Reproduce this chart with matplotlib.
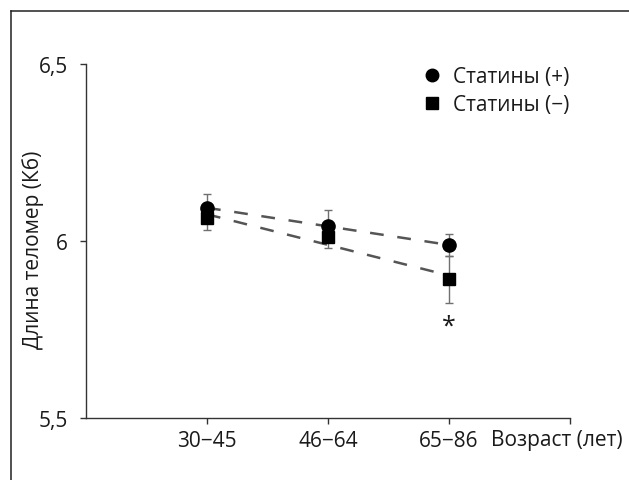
import matplotlib
matplotlib.use("Agg")
import matplotlib.pyplot as plt
from matplotlib.lines import Line2D
import numpy as np

plt.rcParams['font.family'] = ['Open Sans', 'DejaVu Sans']

# Data
categories = ["30−45", "46−64", "65−86"]
statins_plus = [6.093, 6.043, 5.988]
statins_plus_err = [0.040, 0.045, 0.031]
statins_minus = [6.065, 6.010, 5.892]
statins_minus_err = [0.035, 0.030, 0.066]
yticks = [5.5, 6.0, 6.5]
ytick_labels = ["5,5", "6", "6,5"]
label_plus = "Статины (+)"
label_minus = "Статины (−)"
ylabel = "Длина теломер (Кб)"
xlabel = "Возраст (лет)"
signif_marker = "*"
signif_y = 5.76

FS = 15
W, H = 629, 481
fig = plt.figure(figsize=(W / 100, H / 100), dpi=100)
ax = fig.add_axes([86 / W, 1 - 419 / H, (570 - 86) / W, (419 - 65) / H])

x = np.arange(1, len(categories) + 1)
text_color = "#1a1a1a"
err_color = "#707070"
line_color = "#555555"

# trend lines (linear fits)
for vals in (statins_plus, statins_minus):
    k, b = np.polyfit(x, vals, 1)
    ax.plot(x, k * x + b, color=line_color, lw=1.8, dashes=[5.5, 5.5], zorder=2)

ax.errorbar(x, statins_plus, yerr=statins_plus_err, fmt='none', ecolor=err_color,
            elinewidth=1.0, capsize=2.8, capthick=1.0, zorder=3)
ax.errorbar(x, statins_minus, yerr=statins_minus_err, fmt='none', ecolor=err_color,
            elinewidth=1.0, capsize=2.8, capthick=1.0, zorder=3)
ax.plot(x, statins_minus, 's', color='black', markersize=9, zorder=4)
ax.plot(x, statins_plus, 'o', color='black', markersize=9.5, zorder=5)

ax.text(x[-1], signif_y, signif_marker, ha='center', va='center', fontsize=18, color=text_color)

ax.set_xlim(0, 4)
ax.set_ylim(5.5, 6.5)
ax.set_xticks(list(x) + [4])
ax.set_xticklabels(categories + [""])
ax.set_yticks(yticks)
ax.set_yticklabels(ytick_labels)
for s in ('top', 'right'):
    ax.spines[s].set_visible(False)
for s in ('left', 'bottom'):
    ax.spines[s].set_color('#333333')
    ax.spines[s].set_linewidth(1.0)
ax.tick_params(axis='both', direction='out', length=4, width=1.0, color='#333333',
               labelsize=FS, labelcolor=text_color)
ax.tick_params(axis='y', pad=9.0)
ax.tick_params(axis='x', pad=5)

ax.annotate(xlabel, xy=(3.35, 0), xycoords=('data', 'axes fraction'),
            xytext=(0, -8.0), textcoords='offset points', ha='left', va='top',
            fontsize=FS, color=text_color)
fig.text(33 / W, 1 - 250 / H, ylabel, rotation=90, ha='center', va='center',
         fontsize=FS, color=text_color)

handles = [Line2D([], [], marker='o', ls='none', color='black', markersize=9),
           Line2D([], [], marker='s', ls='none', color='black', markersize=8)]
fig.legend(handles, [label_plus, label_minus], loc='upper left',
           bbox_to_anchor=(421.5 / W, 1 - 67 / H), bbox_transform=fig.transFigure,
           frameon=False, borderpad=0, borderaxespad=0, handlelength=1.0,
           handletextpad=0.5, labelspacing=0.35, fontsize=FS, labelcolor=text_color)

# outer partial frame
fig.add_artist(Line2D([11 / W, 1], [1 - 12 / H, 1 - 12 / H], transform=fig.transFigure,
                      color='#222222', lw=1.1))
fig.add_artist(Line2D([11 / W, 11 / W], [0, 1 - 12 / H], transform=fig.transFigure,
                      color='#222222', lw=1.1))

fig.savefig("out.png", dpi=100)
